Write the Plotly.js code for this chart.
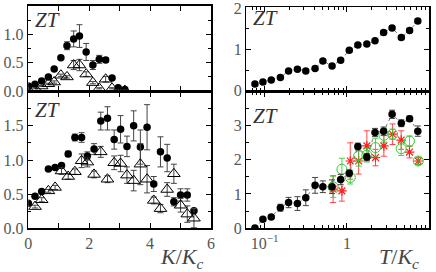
<!DOCTYPE html>
<html><head><meta charset="utf-8">
<script src="https://cdn.plot.ly/plotly-3.0.1.min.js"></script>
<style>html,body{margin:0;padding:0;background:#fff}#plot{width:436px;height:272px}</style>
</head><body><div id="plot"></div>
<script>
// ---- Top-left panel (ZT vs K/Kc, small) ----
const kTop = [0, 0.22, 0.44, 0.66, 0.85, 1.07, 1.27, 1.49, 1.68, 1.90, 2.12, 2.33, 2.54, 2.75, 2.95, 3.17];
const ztTopCirc = [0.09, 0.12, 0.18, 0.25, 0.39, 0.59, 0.80, 0.92, 0.97, 0.69, 0.46, 0.56, 0.55, 0.23, 0.06, 0.03];
const errTopCirc = [0.01, 0.01, 0.01, 0.01, 0.02, 0.02, 0.07, 0.14, 0.2, 0.15, 0.08, 0.07, 0.04, 0.02, 0.02, 0.01];
const ztTopTri = [0.02, 0.05, 0.09, 0.13, 0.16, 0.28, 0.25, 0.46, 0.46, 0.30, 0.15, 0.05, 0.21, 0.05, 0.02, 0.01];
const errTopTri = [0.01, 0.01, 0.01, 0.01, 0.02, 0.02, 0.02, 0.08, 0.1, 0.04, 0.02, 0.01, 0.05, 0.01, 0.01, 0.01];

// ---- Bottom-left panel ----
const kCirc = [0, 0.22, 0.44, 0.66, 0.88, 1.09, 1.31, 1.53, 1.75, 1.94, 2.16, 2.38, 2.60, 2.82, 3.03, 3.24, 3.46, 3.68, 3.90, 4.12, 4.34, 4.56, 4.78, 5.00, 5.22, 5.44];
const ztCirc = [0.37, 0.47, 0.54, 0.87, 0.89, 0.92, 1.09, 1.33, 1.33, 1.06, 1.16, 1.57, 1.61, 1.30, 1.45, 1.20, 1.50, 1.19, 1.48, 0.65, 1.12, 1.03, 0.39, 0.49, 0.49, 0.26];
const errCirc = [0.02, 0.02, 0.02, 0.02, 0.02, 0.02, 0.04, 0.05, 0.07, 0.06, 0.08, 0.13, 0.17, 0.14, 0.2, 0.15, 0.22, 0.25, 0.33, 0.11, 0.22, 0.2, 0.06, 0.09, 0.09, 0.03];
const kTri = [0.22, 0.44, 0.66, 0.88, 1.09, 1.31, 1.53, 1.75, 1.94, 2.16, 2.38, 2.60, 2.82, 3.03, 3.24, 3.46, 3.68, 3.90, 4.12, 4.34, 4.56, 4.78, 5.00, 5.22, 5.44];
const ztTri = [0.32, 0.42, 0.55, 0.60, 0.84, 0.76, 0.83, 0.99, 0.97, 0.79, 1.12, 0.72, 0.96, 0.95, 0.78, 0.70, 0.94, 0.72, 0.41, 0.29, 0.57, 0.80, 0.34, 0.21, 0.15];
const errTri = [0.02, 0.03, 0.02, 0.03, 0.05, 0.04, 0.04, 0.1, 0.07, 0.05, 0.08, 0.05, 0.1, 0.12, 0.12, 0.15, 0.3, 0.2, 0.05, 0.06, 0.1, 0.14, 0.1, 0.12, 0.14];

// ---- Top-right panel (ZT vs T/Kc, log) ----
const tBlack = [0.076, 0.095, 0.12, 0.155, 0.195, 0.25, 0.316, 0.41, 0.51, 0.66, 0.84, 1.07, 1.36, 1.75, 2.2, 2.8, 3.55, 4.6, 5.8, 7.3];
const ztTR = [0.16, 0.21, 0.26, 0.32, 0.48, 0.52, 0.48, 0.54, 0.72, 0.60, 0.74, 0.98, 1.11, 1.13, 1.21, 1.41, 1.52, 1.29, 1.46, 1.69];
const errTR = [0.02, 0.02, 0.02, 0.02, 0.03, 0.03, 0.03, 0.03, 0.04, 0.04, 0.04, 0.04, 0.04, 0.04, 0.04, 0.05, 0.05, 0.05, 0.05, 0.05];

// ---- Bottom-right panel ----
const ztBR = [0.01, 0.26, 0.33, 0.60, 0.75, 0.72, 0.89, 1.25, 1.21, 1.21, 1.42, 1.60, 2.38, 2.08, 2.79, 2.83, 3.32, 3.06, 3.19, 2.83];
const errBR = [0.02, 0.03, 0.04, 0.1, 0.15, 0.2, 0.23, 0.23, 0.17, 0.2, 0.15, 0.1, 0.1, 0.1, 0.12, 0.12, 0.12, 0.1, 0.08, 0.15];
const tColor = [0.68, 0.87, 1.1, 1.39, 1.75, 2.23, 2.82, 3.6, 4.58, 5.78, 7.4];
const ztGreen = [1.21, 1.72, 1.48, 2.11, 2.13, 2.35, 2.71, 2.74, 2.32, 2.54, 1.96];
const errGreen = [0.31, 0.32, 0.19, 0.3, 0.2, 0.27, 0.2, 0.15, 0.2, 0.15, 0.1];
const ztRed = [1.14, 1.09, 1.96, 1.96, 2.40, 2.06, 2.40, 2.74, 2.57, 2.22, 1.96];
const errRed = [0.39, 0.3, 0.53, 0.38, 0.44, 0.24, 0.3, 0.3, 0.27, 0.17, 0.1];

const serif = 'Liberation Serif, DejaVu Serif, serif';
const GRAY = '#444';
function eb(arr, color) { return {type: 'data', array: arr, visible: true, color: color, thickness: 1, width: 3}; }
const circ = {symbol: 'circle', size: 7.5, color: '#000'};
const tri = {symbol: 'triangle-up-open', size: 11, color: '#000', line: {width: 1, color: '#000'}};

const traces = [
  {x: kTop, y: ztTopCirc, xaxis: 'x', yaxis: 'y', mode: 'markers', marker: circ, error_y: eb(errTopCirc, GRAY)},
  {x: kTop, y: ztTopTri, xaxis: 'x', yaxis: 'y', mode: 'markers', marker: tri, error_y: eb(errTopTri, GRAY)},
  {x: kCirc, y: ztCirc, xaxis: 'x2', yaxis: 'y2', mode: 'markers', marker: circ, error_y: eb(errCirc, GRAY)},
  {x: kTri, y: ztTri, xaxis: 'x2', yaxis: 'y2', mode: 'markers', marker: tri, error_y: eb(errTri, GRAY)},
  {x: tBlack, y: ztTR, xaxis: 'x3', yaxis: 'y3', mode: 'lines+markers', marker: circ,
   line: {color: '#777', width: 1, dash: 'dot'}, error_y: eb(errTR, GRAY)},
  {x: tColor, y: ztRed, xaxis: 'x4', yaxis: 'y4', mode: 'markers',
   marker: {symbol: 'asterisk-open', size: 8, color: '#ff2020', line: {width: 1.2, color: '#ff2020'}},
   error_y: eb(errRed, 'rgba(255,40,40,0.85)')},
  {x: tColor, y: ztGreen, xaxis: 'x4', yaxis: 'y4', mode: 'markers',
   marker: {symbol: 'circle-open', size: 10, color: '#33cc33', line: {width: 1, color: '#33cc33'}},
   error_y: eb(errGreen, 'rgba(50,200,50,0.85)')},
  {x: tBlack, y: ztBR, xaxis: 'x4', yaxis: 'y4', mode: 'lines+markers', marker: circ,
   line: {color: '#777', width: 1, dash: 'dot'}, error_y: eb(errBR, GRAY)}
];

const tickFont = {family: serif, size: 16, color: '#555'};
const common = {showline: true, linecolor: '#000', linewidth: 1.5, mirror: 'allticks', ticks: 'inside',
  ticklen: 5, tickcolor: '#000', tickwidth: 1, showgrid: false, zeroline: false, tickfont: tickFont};
const logMinor = {ticks: 'inside', ticklen: 3, tickcolor: '#000', tickwidth: 1, tickmode: 'array',
  tickvals: [0.06, 0.07, 0.08, 0.09, 0.2, 0.3, 0.4, 0.5, 0.6, 0.7, 0.8, 0.9, 2, 3, 4, 5, 6, 7, 8, 9]};
const xL = [0.0649, 0.484], xR = [0.565, 0.984];
const yT = [0.665, 0.978], yTR = [0.665, 0.973], yB = [0.160, 0.663];

const layout = {
  width: 436, height: 272, margin: {l: 0, r: 0, t: 0, b: 0}, showlegend: false,
  paper_bgcolor: '#fff', plot_bgcolor: '#fff',
  xaxis: Object.assign({}, common, {domain: xL, anchor: 'y', range: [0, 6], tickmode: 'array',
    tickvals: [0, 1, 2, 3, 4, 5, 6], showticklabels: false}),
  yaxis: Object.assign({}, common, {domain: yT, anchor: 'x', range: [0, 1.5], tickmode: 'array',
    tickvals: [0, 0.5, 1, 1.5], ticktext: ['0.0', '0.5', '1.0', '1.5'],
    minor: {ticks: 'inside', ticklen: 3, tickcolor: '#000', tickmode: 'array', tickvals: [0.25, 0.75, 1.25]}}),
  xaxis2: Object.assign({}, common, {domain: xL, anchor: 'y2', range: [0, 6], tickmode: 'array',
    tickvals: [0, 1, 2, 3, 4, 5, 6], ticktext: ['0', '', '2', '', '4', '', '6']}),
  yaxis2: Object.assign({}, common, {domain: yB, anchor: 'x2', range: [0, 2], tickmode: 'array',
    tickvals: [0, 0.5, 1, 1.5, 2], ticktext: ['0.0', '0.5', '1.0', '1.5', ''],
    minor: {ticks: 'inside', ticklen: 3, tickcolor: '#000', tickmode: 'array', tickvals: [0.25, 0.75, 1.25, 1.75]}}),
  xaxis3: Object.assign({}, common, {domain: xR, anchor: 'y3', type: 'log', range: [-1.224, 1], tickmode: 'array',
    tickvals: [0.1, 1, 10], showticklabels: false, minor: logMinor}),
  yaxis3: Object.assign({}, common, {domain: yTR, anchor: 'x3', range: [-0.01, 2.02], tickmode: 'array',
    tickvals: [0, 1, 2], ticktext: ['0', '1', '2'], ticklabeloverflow: 'allow',
    minor: {ticks: 'inside', ticklen: 3, tickcolor: '#000', tickmode: 'array', tickvals: [0.5, 1.5]}}),
  xaxis4: Object.assign({}, common, {domain: xR, anchor: 'y4', type: 'log', range: [-1.224, 1], tickmode: 'array',
    tickvals: [0.1, 1, 10], ticktext: ['10<sup>\u22121</sup>', '1', '10'], minor: logMinor}),
  yaxis4: Object.assign({}, common, {domain: yB, anchor: 'x4', range: [-0.006, 3.98], tickmode: 'array',
    tickvals: [0, 1, 2, 3], ticktext: ['0', '1', '2', '3'],
    minor: {ticks: 'inside', ticklen: 3, tickcolor: '#000', tickmode: 'array', tickvals: [0.5, 1.5, 2.5, 3.5]}}),
  annotations: [
    {text: '<i>ZT</i>', xref: 'paper', yref: 'paper', x: 33/436, y: 1 - 20/272, xanchor: 'left', yanchor: 'middle', showarrow: false, font: {family: serif, size: 21, color: '#333'}},
    {text: '<i>ZT</i>', xref: 'paper', yref: 'paper', x: 33/436, y: 1 - 110/272, xanchor: 'left', yanchor: 'middle', showarrow: false, font: {family: serif, size: 21, color: '#333'}},
    {text: '<i>ZT</i>', xref: 'paper', yref: 'paper', x: 251/436, y: 1 - 18/272, xanchor: 'left', yanchor: 'middle', showarrow: false, font: {family: serif, size: 21, color: '#333'}},
    {text: '<i>ZT</i>', xref: 'paper', yref: 'paper', x: 251/436, y: 1 - 116/272, xanchor: 'left', yanchor: 'middle', showarrow: false, font: {family: serif, size: 21, color: '#333'}},
    {text: '<i>K</i>/<i>K<sub>c</sub></i>', xref: 'paper', yref: 'paper', x: 206/436, y: 1 - 258/272, xanchor: 'right', yanchor: 'middle', showarrow: false, font: {family: serif, size: 22, color: '#444'}},
    {text: '<i>T</i>/<i>K<sub>c</sub></i>', xref: 'paper', yref: 'paper', x: 421/436, y: 1 - 258/272, xanchor: 'right', yanchor: 'middle', showarrow: false, font: {family: serif, size: 22, color: '#444'}}
  ]
};
Plotly.newPlot('plot', traces, layout, {staticPlot: true, displayModeBar: false});
</script></body></html>
